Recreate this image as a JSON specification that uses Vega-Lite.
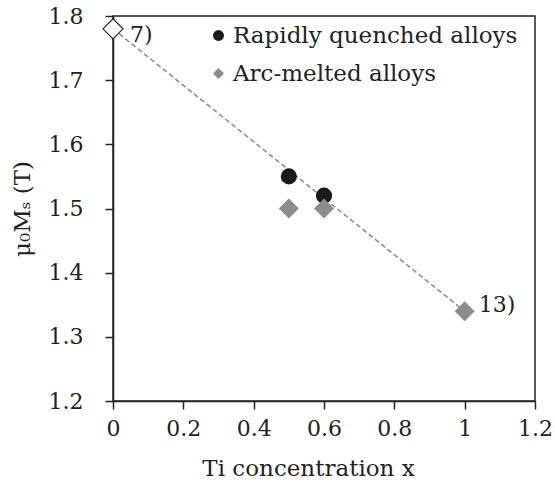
{
  "$schema": "https://vega.github.io/schema/vega-lite/v6.json",
  "width": 422,
  "height": 385,
  "autosize": {"type": "none"},
  "padding": {"left": 113, "top": 16, "right": 20, "bottom": 87},
  "background": "white",
  "config": {
    "font": "DejaVu Serif",
    "view": {"stroke": "#222", "strokeWidth": 1.5},
    "axis": {
      "grid": false,
      "domainColor": "#222",
      "domainWidth": 1.5,
      "tickColor": "#222",
      "tickWidth": 1.5,
      "tickSize": 8,
      "labelFont": "DejaVu Serif",
      "labelFontSize": 22,
      "labelColor": "#222",
      "titleFont": "DejaVu Serif",
      "titleFontSize": 23,
      "titleFontWeight": "normal",
      "titleColor": "#222"
    },
    "legend": {
      "labelFontSize": 23,
      "labelFont": "DejaVu Serif",
      "labelColor": "#222",
      "labelLimit": 0,
      "symbolSize": 120,
      "rowPadding": 14,
      "labelOffset": 3,
      "symbolOpacity": 1
    }
  },
  "datasets": {
    "fit": [{"x": 0, "y": 1.78}, {"x": 1.0, "y": 1.34}],
    "pts": [
      {"x": 0.5, "y": 1.55, "series": "Rapidly quenched alloys"},
      {"x": 0.6, "y": 1.52, "series": "Rapidly quenched alloys"},
      {"x": 0.5, "y": 1.50, "series": "Arc-melted alloys"},
      {"x": 0.6, "y": 1.50, "series": "Arc-melted alloys"},
      {"x": 1.0, "y": 1.34, "series": "Arc-melted alloys"}
    ],
    "ref": [{"x": 0, "y": 1.78}],
    "lab7": [{"x": 0, "y": 1.78, "label": "7)"}],
    "lab13": [{"x": 1.0, "y": 1.34, "label": "13)"}]
  },
  "encoding": {
    "x": {
      "field": "x", "type": "quantitative",
      "scale": {"domain": [0, 1.2], "nice": false, "zero": false},
      "axis": {"values": [0, 0.2, 0.4, 0.6, 0.8, 1, 1.2], "format": "~g", "labelPadding": 9, "title": "Ti concentration x", "titlePadding": 18, "titleX": 195, "labelFlush": false}
    },
    "y": {
      "field": "y", "type": "quantitative",
      "scale": {"domain": [1.2, 1.8], "nice": false, "zero": false},
      "axis": {"values": [1.2, 1.3, 1.4, 1.5, 1.6, 1.7, 1.8], "format": ".1f", "labelPadding": 22, "title": "μ₀Mₛ (T)", "titlePadding": 14, "labelFlush": false}
    }
  },
  "layer": [
    {
      "data": {"name": "fit"},
      "mark": {"type": "line", "color": "#888888", "strokeWidth": 1.5, "strokeDash": [5, 3]}
    },
    {
      "data": {"name": "pts"},
      "transform": [{"filter": "datum.series == 'Rapidly quenched alloys'"}],
      "mark": {"type": "point", "filled": true, "opacity": 1, "size": 260},
      "encoding": {
        "color": {
          "field": "series", "type": "nominal",
          "scale": {"domain": ["Rapidly quenched alloys", "Arc-melted alloys"], "range": ["#1a1a1a", "#8c8c8c"]},
          "legend": {"title": null, "orient": "none", "legendX": 94, "legendY": 8}
        },
        "shape": {
          "field": "series", "type": "nominal",
          "scale": {"domain": ["Rapidly quenched alloys", "Arc-melted alloys"], "range": ["circle", "diamond"]},
          "legend": {"title": null, "orient": "none", "legendX": 94, "legendY": 8}
        }
      }
    },
    {
      "data": {"name": "pts"},
      "transform": [{"filter": "datum.series == 'Arc-melted alloys'"}],
      "mark": {"type": "point", "filled": true, "opacity": 1, "size": 400},
      "encoding": {
        "color": {"field": "series", "type": "nominal"},
        "shape": {"field": "series", "type": "nominal"}
      }
    },
    {
      "data": {"name": "ref"},
      "mark": {"type": "point", "shape": "diamond", "filled": false, "size": 400, "color": "#222", "strokeWidth": 1.2, "fill": "white", "fillOpacity": 1, "opacity": 1}
    },
    {
      "data": {"name": "lab7"},
      "mark": {"type": "text", "align": "left", "baseline": "middle", "fontSize": 22, "font": "DejaVu Serif", "color": "#222", "dx": 17, "dy": 6},
      "encoding": {"text": {"field": "label"}}
    },
    {
      "data": {"name": "lab13"},
      "mark": {"type": "text", "align": "left", "baseline": "middle", "fontSize": 22, "font": "DejaVu Serif", "color": "#222", "dx": 14, "dy": -6},
      "encoding": {"text": {"field": "label"}}
    }
  ]
}
